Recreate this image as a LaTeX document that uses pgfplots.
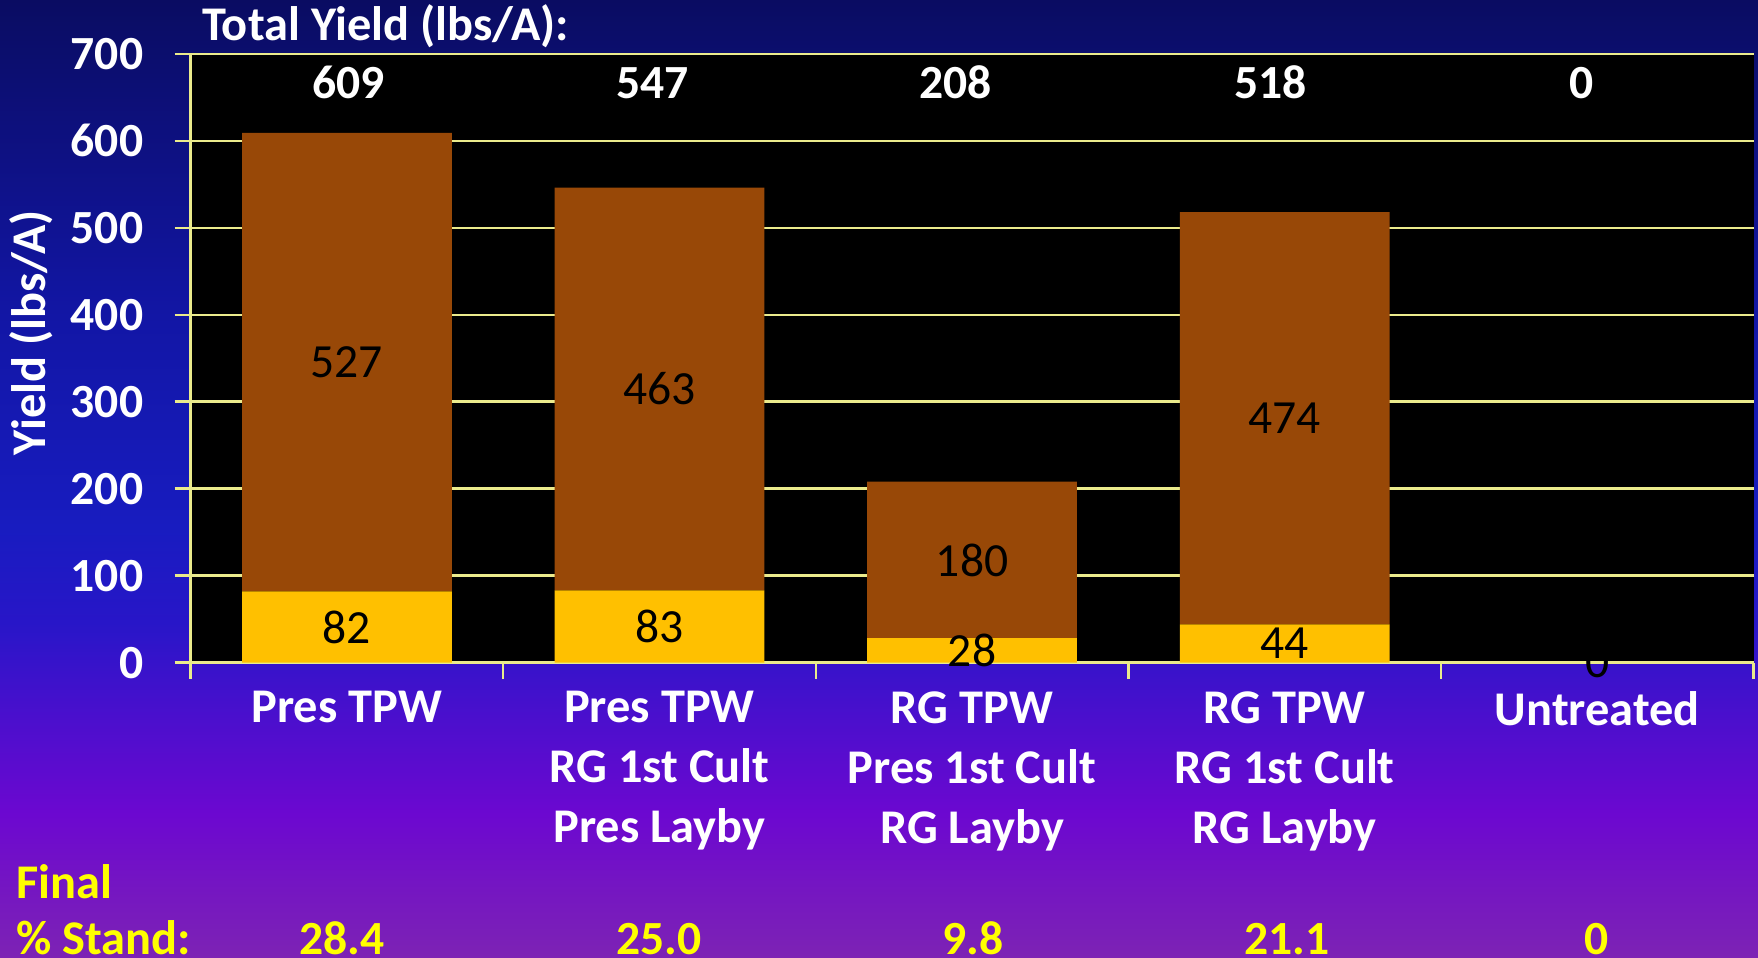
\documentclass[border=0pt]{standalone}
\usepackage{pgfplots}
\pgfplotsset{compat=1.18}
\usepackage{fontspec}
\setmainfont{Carlito}
\definecolor{bgA}{RGB}{10,12,98}
\definecolor{bgB}{RGB}{18,22,165}
\definecolor{bgC}{RGB}{24,28,192}
\definecolor{bgD}{RGB}{40,22,200}
\definecolor{bgE}{RGB}{75,15,205}
\definecolor{bgF}{RGB}{108,8,208}
\definecolor{bgG}{RGB}{125,35,180}
\definecolor{gridc}{RGB}{235,235,140}
\definecolor{barY}{RGB}{255,192,0}
\definecolor{barB}{RGB}{152,72,7}
\definecolor{ylw}{RGB}{255,255,0}
\pgfdeclareverticalshading{bgshade}{100bp}{color(0bp)=(bgG); color(25bp)=(bgG); color(32.5bp)=(bgF); color(37.5bp)=(bgE); color(42.5bp)=(bgD); color(47.5bp)=(bgC); color(58.5bp)=(bgB); color(75bp)=(bgA); color(100bp)=(bgA)}
\newcommand\bigfont{\fontsize{24.2pt}{30pt}\selectfont}
\newcommand\tickfont{\fontsize{23.8pt}{30pt}\selectfont}
\begin{document}
\begin{tikzpicture}
\useasboundingbox (0pt,0pt) rectangle (879pt,479pt);
\shade[shading=bgshade] (0pt,0pt) rectangle (879pt,479pt);
\begin{axis}[
  at={(95.3pt,147.7pt)}, anchor=south west,
  scale only axis, width=781.5pt, height=304.4pt,
  xmin=-0.5, xmax=4.5, ymin=0, ymax=700,
  clip=false,
  axis background/.style={fill=black},
  axis x line*=bottom, axis y line*=left,
  axis line style={draw=gridc, line width=1.2pt, -},
  ymajorgrids, grid style={draw=gridc, line width=1.2pt},
  ytick={0,100,...,700},
  xtick={-0.5,0.5,1.5,2.5,3.5,4.5}, xticklabels={},
  tick align=outside, major tick length=8pt,
  tick style={draw=gridc, line width=1.2pt},
  /pgf/number format/assume math mode=true,
  yticklabel style={font=\tickfont\bfseries, text=white, anchor=east, inner sep=0pt, xshift=-15.5pt},
  extra x ticks={0,1,2,3,4},
  extra x tick labels={Pres TPW, {Pres TPW\\RG 1st Cult\\Pres Layby}, {RG TPW\\Pres 1st Cult\\RG Layby}, {RG TPW\\RG 1st Cult\\RG Layby}, Untreated},
  extra x tick style={grid=none, major tick length=0pt, tick style={draw=none},
    xticklabel style={font=\bigfont\bfseries, text=white, align=center, anchor=north, inner sep=0pt, yshift=-14.3pt}},
  ybar stacked, bar width=0.671,
]
\addplot[fill=barY, draw=none] coordinates {(0,82) (1,83) (2,28) (3,44) (4,0)};
\addplot[fill=barB, draw=none] coordinates {(0,527) (1,463) (2,180) (3,474) (4,0)};
% label positions
\coordinate (b1) at (axis cs:0,345.5);
\coordinate (b2) at (axis cs:1,314.5);
\coordinate (b3) at (axis cs:2,118);
\coordinate (b4) at (axis cs:3,281);
\coordinate (y1) at (axis cs:0,41);
\coordinate (y2) at (axis cs:1,41.5);
\coordinate (y3) at (axis cs:2,14);
\coordinate (y4) at (axis cs:3,22);
\coordinate (y5) at (axis cs:4,0);
\coordinate (t1) at (axis cs:0.006,649);
\coordinate (t2) at (axis cs:0.978,649);
\coordinate (t3) at (axis cs:1.946,649);
\coordinate (t4) at (axis cs:2.954,649);
\coordinate (t5) at (axis cs:3.951,649);
\end{axis}
% segment labels
\node[font=\tickfont, text=black] at (b1) {527};
\node[font=\tickfont, text=black] at (b2) {463};
\node[font=\tickfont, text=black] at (b3) {180};
\node[font=\tickfont, text=black] at (b4) {474};
\node[font=\tickfont, text=black] at (y1) {82};
\node[font=\tickfont, text=black] at (y2) {83};
\node[font=\tickfont, text=black] at (y3) {28};
\node[font=\tickfont, text=black] at (y4) {44};
\node[font=\tickfont, text=black] at (y5) {0};
% totals
\node[font=\tickfont\bfseries, text=white, anchor=base] at (t1) {609};
\node[font=\tickfont\bfseries, text=white, anchor=base] at (t2) {547};
\node[font=\tickfont\bfseries, text=white, anchor=base] at (t3) {208};
\node[font=\tickfont\bfseries, text=white, anchor=base] at (t4) {518};
\node[font=\tickfont\bfseries, text=white, anchor=base] at (t5) {0};
\node[font=\bigfont\bfseries, text=white, anchor=base west, inner sep=0pt] at (100.9pt,458.8pt) {Total Yield (lbs/A):};
\node[font=\bigfont\bfseries, text=white, rotate=90, inner sep=0pt] at (15.7pt,312.5pt) {Yield (lbs/A)};
\node[font=\bigfont\bfseries, text=ylw, anchor=base west, inner sep=0pt] at (7.85pt,29.7pt) {Final};
\node[font=\bigfont\bfseries, text=ylw, anchor=base west, inner sep=0pt] at (7.85pt,1.8pt) {\% Stand:};
\node[font=\tickfont\bfseries, text=ylw, anchor=base, inner sep=0pt] at (171pt,1.8pt) {28.4};
\node[font=\tickfont\bfseries, text=ylw, anchor=base, inner sep=0pt] at (329.3pt,1.8pt) {25.0};
\node[font=\tickfont\bfseries, text=ylw, anchor=base, inner sep=0pt] at (486.6pt,1.8pt) {9.8};
\node[font=\tickfont\bfseries, text=ylw, anchor=base, inner sep=0pt] at (643.6pt,1.8pt) {21.1};
\node[font=\tickfont\bfseries, text=ylw, anchor=base, inner sep=0pt] at (798.3pt,1.8pt) {0};
\end{tikzpicture}
\end{document}
